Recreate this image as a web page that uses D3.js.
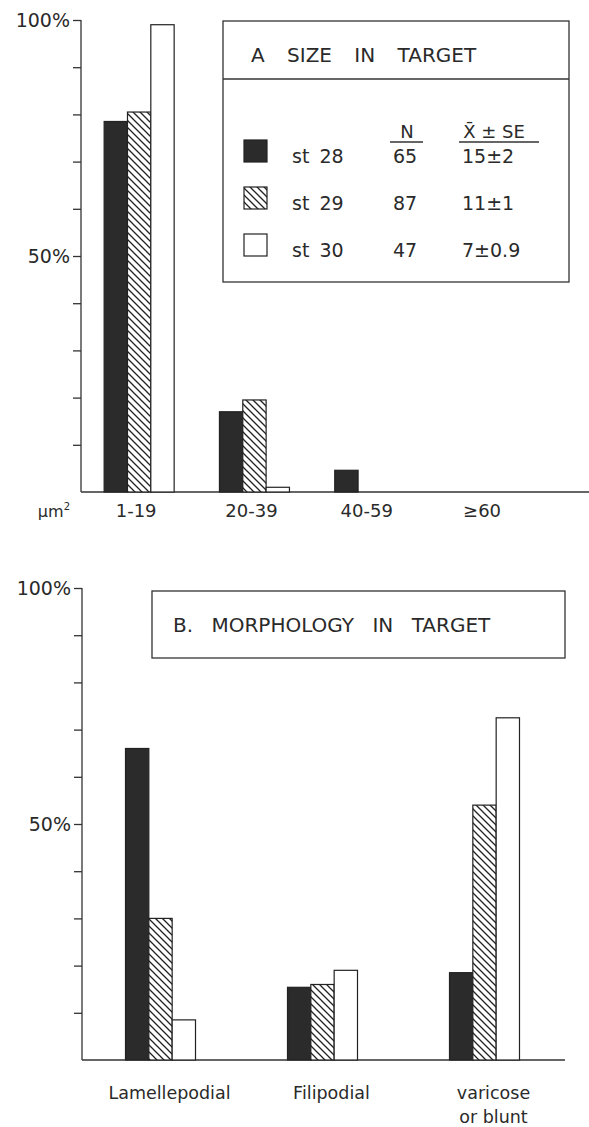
<!doctype html>
<html lang="en">
<head>
<meta charset="UTF-8">
<title>Growth cones in target</title>
<script src="https://d3js.org/d3.v7.min.js"></script>
<style>
  body { margin: 0; background: #fff; }
  svg { display: block; }
  text { font-family: "DejaVu Sans", sans-serif; fill: #2a2a2a; }
  .axis path, .axis line { stroke: #333; stroke-width: 1.3; }
  .axis text { font-size: 19px; }
  .bar { stroke: #222; stroke-width: 1.2; }
</style>
</head>
<body>
<svg width="589" height="1127"></svg>
<script>
// panel A: size in target (% of growth cones)
const sizeCats = ['1-19', '20-39', '40-59', '\u226560'];
const sizeSt28 = [78.5, 17, 4.6, 0];
const sizeSt29 = [80.5, 19.5, 0, 0];
const sizeSt30 = [99, 1, 0, 0];

// panel B: morphology in target
const morphCats = ['Lamellepodial', 'Filipodial', 'varicose|or blunt'];
const morphSt28 = [66, 15.4, 18.5];
const morphSt29 = [30, 16, 54];
const morphSt30 = [8.5, 19, 72.5];

// legend table
const stages = ['st 28', 'st 29', 'st 30'];
const stageN = ['65', '87', '47'];
const stageMean = ['15\u00b12', '11\u00b11', '7\u00b10.9'];

const yTicks = [10, 20, 30, 40, 50, 60, 70, 80, 90, 100];
const yLabels = { 50: '50%', 100: '100%' };

const fills = { 'st 28': '#2b2b2b', 'st 29': 'url(#hatch)', 'st 30': '#fff' };

const svg = d3.select('svg');

// diagonal hatch
const defs = svg.append('defs');
defs.append('pattern')
    .attr('id', 'hatch')
    .attr('patternUnits', 'userSpaceOnUse')
    .attr('width', 7).attr('height', 7)
  .call(p => {
    p.append('rect').attr('width', 7).attr('height', 7).attr('fill', '#fff');
    p.append('path')
      .attr('d', 'M-1,-1 L8,8 M-4,3 L1,8 M3,-4 L8,1')
      .attr('stroke', '#222').attr('stroke-width', 1.3);
  });

function panel(cfg) {
  const y = d3.scaleLinear().domain([0, 100]).range([cfg.y0, cfg.y100]);
  const x = d3.scaleBand().domain(cfg.cats).range(cfg.xRange).padding(0);
  const inner = d3.scaleBand().domain(stages)
      .range([x.bandwidth() / 2 - 35, x.bandwidth() / 2 + 35]);

  // y axis
  svg.append('g')
      .attr('class', 'axis')
      .attr('transform', `translate(${cfg.axisX},0)`)
      .call(d3.axisLeft(y)
        .tickValues(yTicks)
        .tickSize(8)
        .tickSizeOuter(0)
        .tickPadding(3)
        .tickFormat(d => yLabels[d] || ''))
      .call(g => g.select('.domain').attr('d', `M0,${y(100)}V${y(0)}`));

  // baseline
  svg.append('line')
      .attr('x1', cfg.axisX).attr('x2', cfg.baseEnd)
      .attr('y1', y(0)).attr('y2', y(0))
      .attr('stroke', '#333').attr('stroke-width', 1.5);

  const rows = [];
  cfg.cats.forEach((c, i) => {
    stages.forEach((s, j) => {
      const v = cfg.series[j][i];
      if (v > 0) rows.push({ cat: c, stage: s, val: v });
    });
  });

  svg.append('g').selectAll('rect')
    .data(rows)
    .join('rect')
      .attr('class', 'bar')
      .attr('x', d => x(d.cat) + inner(d.stage))
      .attr('y', d => y(d.val))
      .attr('width', inner.bandwidth())
      .attr('height', d => y(0) - y(d.val))
      .attr('fill', d => fills[d.stage]);

  // category labels
  const lab = svg.append('g').selectAll('text')
    .data(cfg.cats)
    .join('text')
      .attr('x', d => x(d) + x.bandwidth() / 2 + cfg.labelShift)
      .attr('y', cfg.labelY)
      .attr('text-anchor', 'middle')
      .style('font-size', cfg.labelSize + 'px');
  lab.selectAll('tspan')
    .data(d => d.split('|'))
    .join('tspan')
      .attr('x', function () { return d3.select(this.parentNode).attr('x'); })
      .attr('dy', (d, i) => i ? 24 : 0)
      .text(d => d);

  return { x, y };
}

// ---- panel A ----
panel({
  cats: sizeCats,
  series: [sizeSt28, sizeSt29, sizeSt30],
  y0: 492, y100: 20,
  axisX: 81, baseEnd: 589,
  xRange: [81.5, 542.7],
  labelY: 517, labelShift: -3, labelSize: 18
});

svg.append('text')
    .attr('x', 70).attr('y', 517)
    .attr('text-anchor', 'end')
    .style('font-size', '16px')
    .html('\u03bcm<tspan dy="-7" style="font-size:10px">2</tspan>');

// legend box A
const legA = svg.append('g');
legA.append('rect')
    .attr('x', 223).attr('y', 21).attr('width', 346).attr('height', 261)
    .attr('fill', 'none').attr('stroke', '#333').attr('stroke-width', 1.3);
legA.append('line')
    .attr('x1', 223).attr('x2', 569).attr('y1', 79).attr('y2', 79)
    .attr('stroke', '#333').attr('stroke-width', 1.3);
legA.append('text')
    .attr('x', 251).attr('y', 62)
    .style('font-size', '20px')
    .style('word-spacing', '16px')
    .text('A SIZE IN TARGET');

legA.append('text').attr('x', 407).attr('y', 138)
    .attr('text-anchor', 'middle').style('font-size', '18px').text('N');
legA.append('line').attr('x1', 390).attr('x2', 423).attr('y1', 142).attr('y2', 142)
    .attr('stroke', '#333').attr('stroke-width', 1.3);
legA.append('text').attr('x', 494).attr('y', 138)
    .attr('text-anchor', 'middle').style('font-size', '18px').text('X\u0304 \u00b1 SE');
legA.append('line').attr('x1', 459).attr('x2', 539).attr('y1', 142).attr('y2', 142)
    .attr('stroke', '#333').attr('stroke-width', 1.3);

const rowY = d3.scalePoint().domain(stages).range([163, 257]);
const legRows = legA.selectAll('g.row')
  .data(stages)
  .join('g')
    .attr('class', 'row')
    .attr('transform', d => `translate(0,${rowY(d)})`);
legRows.append('rect')
    .attr('x', 244).attr('y', -23).attr('width', 23).attr('height', 22)
    .attr('fill', d => fills[d]).attr('stroke', '#222').attr('stroke-width', 1.2);
legRows.append('text').attr('x', 292).attr('y', 0)
    .style('font-size', '19px').style('word-spacing', '4px').text(d => d);
legRows.append('text').attr('x', 393).attr('y', 0)
    .style('font-size', '19px').text((d, i) => stageN[i]);
legRows.append('text').attr('x', 462).attr('y', 0)
    .style('font-size', '19px').text((d, i) => stageMean[i]);

// ---- panel B ----
panel({
  cats: morphCats,
  series: [morphSt28, morphSt29, morphSt30],
  y0: 1060, y100: 588,
  axisX: 82, baseEnd: 565,
  xRange: [79.5, 565.5],
  labelY: 1099, labelShift: 9, labelSize: 17.5
});

const legB = svg.append('g');
legB.append('rect')
    .attr('x', 152).attr('y', 591).attr('width', 413).attr('height', 67)
    .attr('fill', 'none').attr('stroke', '#333').attr('stroke-width', 1.3);
legB.append('text')
    .attr('x', 173).attr('y', 632)
    .style('font-size', '20px')
    .style('word-spacing', '12px')
    .text('B. MORPHOLOGY IN TARGET');
</script>
</body>
</html>
